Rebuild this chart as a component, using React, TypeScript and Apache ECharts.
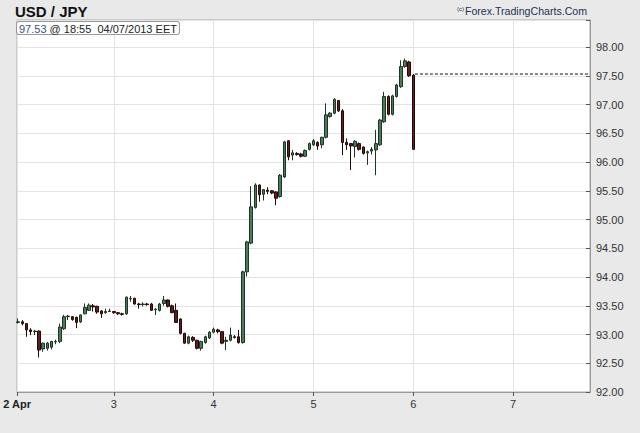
import React, { useEffect, useRef } from 'react';
import * as echarts from 'echarts';

// Hourly USD/JPY candles, hour index 1..96 counted from 2 Apr 00:00
const opens = [
  93.21, 93.22, 93.19, 93.08, 93.05, 93.06, 92.75, 92.76, 92.78, 92.87, 92.88, 93.10,
  93.31, 93.31, 93.30, 93.22, 93.36, 93.42, 93.50, 93.49, 93.41, 93.38, 93.40, 93.40,
  93.38, 93.36, 93.36, 93.62, 93.63, 93.53, 93.52, 93.53, 93.53, 93.43, 93.42, 93.54,
  93.60, 93.50, 93.42, 93.27, 93.02, 92.85, 92.95, 92.90, 92.76, 92.86, 92.94, 93.04,
  93.08, 93.05, 92.88, 92.90, 92.96, 92.96, 92.86, 94.09, 94.59, 95.21, 95.60, 95.44,
  95.51, 95.50, 95.48, 95.40, 95.74, 96.37, 96.12, 96.15, 96.14, 96.10, 96.22, 96.30,
  96.34, 96.30, 96.43, 96.79, 96.85, 97.07, 96.89, 96.34, 96.32, 96.27, 96.32, 96.26,
  96.16, 96.19, 96.21, 96.30, 96.70, 97.14, 96.83, 97.14, 97.31, 97.66, 97.74, 97.51,
];
const closes = [
  93.22, 93.19, 93.08, 93.05, 93.06, 92.73, 92.85, 92.85, 92.88, 92.88, 93.13, 93.31,
  93.32, 93.26, 93.21, 93.34, 93.47, 93.51, 93.48, 93.39, 93.36, 93.40, 93.41, 93.38,
  93.36, 93.35, 93.65, 93.63, 93.53, 93.52, 93.53, 93.52, 93.42, 93.44, 93.53, 93.60,
  93.49, 93.38, 93.21, 93.02, 92.85, 92.96, 92.90, 92.76, 92.88, 92.96, 93.04, 93.09,
  93.05, 92.85, 92.90, 92.99, 92.95, 92.86, 94.09, 94.61, 95.22, 95.60, 95.43, 95.52,
  95.49, 95.46, 95.37, 95.77, 96.35, 96.09, 96.16, 96.13, 96.10, 96.20, 96.32, 96.37,
  96.28, 96.43, 96.82, 96.85, 97.09, 96.89, 96.34, 96.30, 96.28, 96.36, 96.22, 96.15,
  96.18, 96.22, 96.32, 96.73, 97.14, 96.83, 97.15, 97.34, 97.66, 97.76, 97.50, 96.22,
];
const lows = [
  93.19, 93.16, 92.96, 92.99, 92.99, 92.60, 92.70, 92.72, 92.74, 92.83, 92.85, 93.08,
  93.25, 93.24, 93.11, 93.20, 93.35, 93.41, 93.40, 93.36, 93.29, 93.36, 93.39, 93.36,
  93.34, 93.33, 93.34, 93.57, 93.52, 93.45, 93.49, 93.50, 93.41, 93.34, 93.40, 93.50,
  93.47, 93.37, 93.20, 93.00, 92.84, 92.83, 92.87, 92.74, 92.72, 92.84, 92.92, 93.02,
  93.02, 92.83, 92.73, 92.88, 92.93, 92.84, 92.84, 94.01, 94.57, 95.19, 95.31, 95.33,
  95.44, 95.44, 95.25, 95.38, 95.72, 96.03, 96.03, 96.11, 96.08, 96.09, 96.20, 96.28,
  96.21, 96.24, 96.41, 96.77, 96.83, 96.87, 96.12, 96.21, 95.86, 96.08, 96.20, 96.13,
  95.95, 96.13, 95.77, 96.28, 96.68, 96.81, 96.81, 97.12, 97.29, 97.64, 97.48, 96.22,
];
const highs = [
  93.28, 93.25, 93.20, 93.11, 93.08, 93.07, 92.86, 92.87, 92.89, 92.91, 93.19, 93.34,
  93.34, 93.32, 93.31, 93.35, 93.54, 93.54, 93.53, 93.50, 93.42, 93.45, 93.45, 93.41,
  93.39, 93.38, 93.66, 93.67, 93.64, 93.55, 93.56, 93.55, 93.55, 93.46, 93.55, 93.67,
  93.61, 93.52, 93.54, 93.28, 93.03, 92.98, 92.97, 92.91, 92.89, 92.98, 93.06, 93.12,
  93.10, 93.06, 92.96, 93.12, 92.99, 93.08, 94.11, 94.63, 95.58, 95.63, 95.61, 95.53,
  95.56, 95.51, 95.49, 95.79, 96.37, 96.38, 96.21, 96.17, 96.16, 96.22, 96.34, 96.40,
  96.36, 96.44, 97.02, 96.87, 97.11, 97.08, 96.92, 96.41, 96.33, 96.38, 96.34, 96.27,
  96.20, 96.26, 96.56, 96.75, 97.22, 97.16, 97.17, 97.36, 97.77, 97.80, 97.76, 97.53,
];

const lastPrice = 97.53;
const dayTickHours = [0.72, 24, 48, 72, 96, 120];
const dayLabels = ['2 Apr', '3', '4', '5', '6', '7'];
const yLabels = ['92.00', '92.50', '93.00', '93.50', '94.00', '94.50', '95.00', '95.50', '96.00', '96.50', '97.00', '97.50', '98.00'];

const FONT = '"Liberation Sans", Arial, Helvetica, sans-serif';

export default function App() {
  const ref = useRef<HTMLDivElement>(null);

  useEffect(() => {
    if (!ref.current) return;
    const chart = echarts.init(ref.current, null, { renderer: 'svg' });
    const candles = opens.map((o, i) => [i + 1, o, closes[i], lows[i], highs[i]]);

    chart.setOption({
      animation: false,
      backgroundColor: '#e9e9e9',
      textStyle: { fontFamily: FONT },
      grid: {
        left: 16,
        right: 50,
        top: 20,
        bottom: 41,
        show: true,
        backgroundColor: '#ffffff',
        borderColor: '#a8a8a8',
        borderWidth: 1,
      },
      xAxis: {
        type: 'value',
        min: 0.72,
        max: 138.5,
        axisLine: { show: true, onZero: false, lineStyle: { color: '#9a9a9a' } },
        axisTick: { show: true, length: 4, customValues: dayTickHours, lineStyle: { color: '#555' } },
        axisLabel: {
          customValues: dayTickHours,
          color: '#333',
          fontSize: 11,
          fontFamily: FONT,
          margin: 6,
          formatter: (v: number) => {
            const i = dayTickHours.findIndex((h) => Math.abs(h - v) < 0.01);
            if (i < 0) return '';
            return i === 0 ? '{b|' + dayLabels[0] + '}' : dayLabels[i];
          },
          rich: { b: { fontWeight: 'bold', fontSize: 11, color: '#222', fontFamily: FONT } },
        },
        splitLine: { show: true, lineStyle: { color: '#e3e3e3', width: 1 } },
      },
      yAxis: {
        type: 'value',
        position: 'right',
        min: 92,
        max: 98.47,
        interval: 0.5,
        axisLine: { show: true, lineStyle: { color: '#9a9a9a' } },
        axisTick: { show: true, inside: true, length: 4, lineStyle: { color: '#555' } },
        axisLabel: {
          color: '#333',
          fontSize: 11,
          fontFamily: FONT,
          margin: 6,
          formatter: (v: number) => {
            const s = v.toFixed(2);
            return yLabels.indexOf(s) >= 0 && Math.abs(v * 2 - Math.round(v * 2)) < 1e-6 ? s : '';
          },
        },
        splitLine: { show: true, lineStyle: { color: '#e3e3e3', width: 1 } },
      },
      series: [
        {
          type: 'candlestick',
          data: candles,
          encode: { x: 0, y: [1, 2, 3, 4] },
          barWidth: 3,
          itemStyle: {
            color: '#4b7b58',
            color0: '#5b1f1f',
            borderColor: '#1d3524',
            borderColor0: '#250909',
            borderWidth: 1,
          },
        },
        {
          type: 'line',
          data: [[96.4, lastPrice], [138.5, lastPrice]],
          symbol: 'none',
          silent: true,
          lineStyle: { color: '#111', width: 1, type: [3, 2] },
        },
      ],
      graphic: [
        {
          type: 'text',
          left: 15,
          top: 4,
          style: { text: 'USD / JPY', fontSize: 15, fontWeight: 'bold', fontFamily: FONT, fill: '#111' },
        },
        {
          type: 'text',
          left: 16,
          top: 21,
          z: 100,
          style: {
            text: '{v|97.53} @ 18:55  04/07/2013 EET',
            rich: { v: { fill: '#3b4f8a', fontSize: 11, fontFamily: FONT } },
            fill: '#222',
            fontSize: 11,
            fontFamily: FONT,
            backgroundColor: '#ffffff',
            borderColor: '#999',
            borderWidth: 1,
            borderRadius: 2,
            padding: [1, 2, 0, 2],
          },
        },
        {
          type: 'text',
          left: 457,
          top: 6,
          style: { text: '(c)', fontSize: 6, fontFamily: FONT, fill: '#223355' },
        },
        {
          type: 'text',
          right: 53,
          top: 5,
          style: { text: 'Forex.TradingCharts.Com', fontSize: 10.6, fontFamily: FONT, fill: '#223355' },
        },
      ],
    });

    return () => chart.dispose();
  }, []);

  return (
    <div
      ref={ref}
      style={{ position: 'fixed', left: 0, top: 0, width: 640, height: 433 }}
    />
  );
}
